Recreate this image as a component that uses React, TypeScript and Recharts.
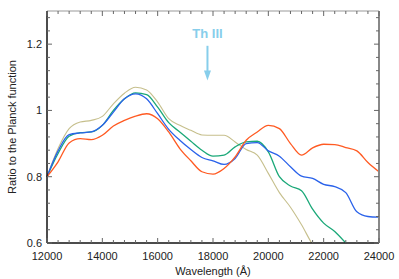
import React from 'react';
import { LineChart, Line, XAxis, YAxis, ReferenceLine, ReferenceDot } from 'recharts';

const wavelengths = [
  12000, 12400, 12800, 13200, 13600, 14000, 14400, 14800, 15200, 15600, 16000,
  16400, 16800, 17200, 17600, 18000, 18400, 18800, 19200, 19600, 20000, 20400,
  20800, 21200, 21600, 22000, 22400, 22800, 23200, 23600, 24000,
];

const tanRatio = [
  0.8, 0.885, 0.945, 0.965, 0.97, 0.982, 1.02, 1.052, 1.07, 1.062, 1.025,
  0.975, 0.955, 0.94, 0.926, 0.925, 0.925, 0.905, 0.882, 0.865, 0.81, 0.752,
  0.708, 0.655, 0.595, 0.55, null, null, null, null, null,
];

const greenRatio = [
  0.8, 0.87, 0.922, 0.933, 0.935, 0.955, 1.0, 1.035, 1.053, 1.048, 1.01,
  0.963, 0.935, 0.907, 0.88, 0.862, 0.865, 0.89, 0.905, 0.907, 0.875, 0.8,
  0.772, 0.758, 0.702, 0.66, 0.635, 0.6, 0.56, null, null,
];

const blueRatio = [
  0.8, 0.878, 0.927, 0.932, 0.935, 0.955, 0.995, 1.035, 1.05, 1.035, 0.99,
  0.943, 0.91, 0.882, 0.858, 0.848, 0.837, 0.855, 0.9, 0.903, 0.878, 0.862,
  0.83, 0.802, 0.795, 0.777, 0.77, 0.752, 0.694, 0.68, 0.678,
];

const redRatio = [
  0.8, 0.845, 0.902, 0.915, 0.912, 0.925, 0.953, 0.97, 0.983, 0.99, 0.975,
  0.935, 0.885, 0.848, 0.815, 0.808, 0.825, 0.86, 0.91, 0.935, 0.955, 0.945,
  0.9, 0.865, 0.887, 0.898, 0.897, 0.888, 0.878, 0.843, 0.815,
];

const xMajorTicks = [12000, 14000, 16000, 18000, 20000, 22000, 24000];
const xAllTicks = wavelengths;
const yMajorTicks = [0.6, 0.8, 1, 1.2];
const yAllTicks = [
  0.6, 0.64, 0.68, 0.72, 0.76, 0.8, 0.84, 0.88, 0.92, 0.96, 1, 1.04, 1.08,
  1.12, 1.16, 1.2, 1.24, 1.28,
];

const annotationText = 'Th III';
const annotationX = 17800;
const annotationTextY = 1.232;
const arrowTop = 1.195;
const arrowShaftEnd = 1.115;
const arrowTip = 1.09;

const data = wavelengths.map((w, i) => ({
  w,
  tan: tanRatio[i],
  green: greenRatio[i],
  blue: blueRatio[i],
  red: redRatio[i],
}));

const isMajor = (list: number[], v: number) => list.some((m) => Math.abs(m - v) < 1e-6);
const TICK = '#666';
const FONT = '"Liberation Sans", Arial, sans-serif';

const BottomTick = (props: any) => {
  const { x, y, payload } = props;
  const major = isMajor(xMajorTicks, payload.value);
  return (
    <g>
      <line x1={x} x2={x} y1={y} y2={y - (major ? 5 : 3)} stroke={TICK} strokeWidth={1} />
      {major && (
        <text x={x} y={y + 17} textAnchor="middle" fontSize={11} fill="#222" fontFamily={FONT}>
          {payload.value}
        </text>
      )}
    </g>
  );
};

const TopTick = (props: any) => {
  const { x, y, payload } = props;
  const major = isMajor(xMajorTicks, payload.value);
  return <line x1={x} x2={x} y1={y} y2={y + (major ? 5 : 3)} stroke={TICK} strokeWidth={1} />;
};

const LeftTick = (props: any) => {
  const { x, y, payload } = props;
  const major = isMajor(yMajorTicks, payload.value);
  return (
    <g>
      <line x1={x} x2={x + (major ? 5 : 3)} y1={y} y2={y} stroke={TICK} strokeWidth={1} />
      {major && (
        <text x={x - 5} y={y + 4} textAnchor="end" fontSize={11} fill="#222" fontFamily={FONT}>
          {String(payload.value)}
        </text>
      )}
    </g>
  );
};

const RightTick = (props: any) => {
  const { x, y, payload } = props;
  const major = isMajor(yMajorTicks, payload.value);
  return <line x1={x} x2={x - (major ? 5 : 3)} y1={y} y2={y} stroke={TICK} strokeWidth={1} />;
};

const ANNOT = '#87CEEB';

export default function App() {
  return (
    <div style={{ position: 'absolute', left: 0, top: 0, width: 399, height: 279, background: '#fff' }}>
      <LineChart
        width={399}
        height={279}
        data={data}
        margin={{ top: 0, right: 0, bottom: 0, left: 0 }}
        style={{ fontFamily: FONT }}
      >
        <XAxis
          xAxisId="bottom"
          dataKey="w"
          type="number"
          domain={[12000, 24000]}
          ticks={xAllTicks}
          interval={0}
          orientation="bottom"
          height={36}
          tickSize={0}
          tickMargin={0}
          tickLine={false}
          tick={<BottomTick />}
          axisLine={{ stroke: '#111', strokeWidth: 1.5 }}
          label={{ value: 'Wavelength (Å)', position: 'insideBottom', offset: 4, fontSize: 11, fill: '#222' }}
        />
        <XAxis
          xAxisId="top"
          dataKey="w"
          type="number"
          domain={[12000, 24000]}
          ticks={xAllTicks}
          interval={0}
          orientation="top"
          height={11}
          tickSize={0}
          tickMargin={0}
          tickLine={false}
          tick={<TopTick />}
          axisLine={{ stroke: '#999', strokeWidth: 1 }}
        />
        <YAxis
          yAxisId="left"
          type="number"
          domain={[0.6, 1.3]}
          allowDataOverflow
          ticks={yAllTicks}
          interval={0}
          orientation="left"
          width={47}
          tickSize={0}
          tickMargin={0}
          tickLine={false}
          tick={<LeftTick />}
          axisLine={{ stroke: '#111', strokeWidth: 1.5 }}
          label={{
            value: 'Ratio to the Planck function',
            angle: -90,
            position: 'insideLeft',
            offset: 12,
            fontSize: 11,
            fill: '#222',
            style: { textAnchor: 'middle' },
          }}
        />
        <YAxis
          yAxisId="right"
          type="number"
          domain={[0.6, 1.3]}
          allowDataOverflow
          ticks={yAllTicks}
          interval={0}
          orientation="right"
          width={20}
          tickSize={0}
          tickMargin={0}
          tickLine={false}
          tick={<RightTick />}
          axisLine={{ stroke: '#888', strokeWidth: 2 }}
        />
        <Line xAxisId="bottom" yAxisId="left" type="monotone" dataKey="tan" stroke="#c6bf8c" strokeWidth={1.1} dot={false} isAnimationActive={false} />
        <Line xAxisId="bottom" yAxisId="left" type="monotone" dataKey="green" stroke="#1aa878" strokeWidth={1.3} dot={false} isAnimationActive={false} />
        <Line xAxisId="bottom" yAxisId="left" type="monotone" dataKey="blue" stroke="#2a62ea" strokeWidth={1.3} dot={false} isAnimationActive={false} />
        <Line xAxisId="bottom" yAxisId="left" type="monotone" dataKey="red" stroke="#ff5a22" strokeWidth={1.3} dot={false} isAnimationActive={false} />
        <ReferenceLine
          xAxisId="bottom"
          yAxisId="left"
          segment={[
            { x: annotationX, y: arrowTop },
            { x: annotationX, y: arrowShaftEnd },
          ]}
          stroke={ANNOT}
          strokeWidth={2}
        />
        <ReferenceDot
          xAxisId="bottom"
          yAxisId="left"
          x={annotationX}
          y={arrowTip}
          shape={(p: any) => (
            <polygon
              points={`${p.cx - 3.5},${p.cy - 10} ${p.cx + 3.5},${p.cy - 10} ${p.cx},${p.cy}`}
              fill={ANNOT}
            />
          )}
        />
        <ReferenceDot
          xAxisId="bottom"
          yAxisId="left"
          x={annotationX}
          y={annotationTextY}
          shape={(p: any) => (
            <text
              x={p.cx}
              y={p.cy + 4.5}
              textAnchor="middle"
              fontSize={13}
              fontWeight="bold"
              fill={ANNOT}
              fontFamily={FONT}
            >
              {annotationText}
            </text>
          )}
        />
      </LineChart>
    </div>
  );
}
